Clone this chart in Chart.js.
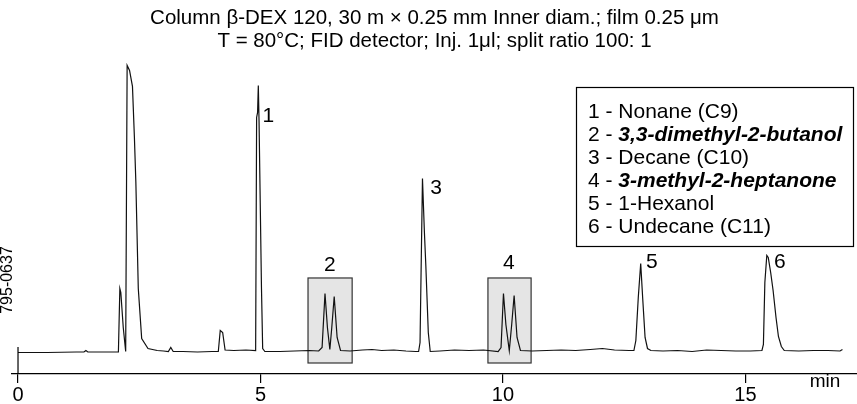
<!DOCTYPE html>
<html>
<head>
<meta charset="utf-8">
<script src="https://cdn.jsdelivr.net/npm/chart.js@4"></script>
<style>
  html, body { margin: 0; padding: 0; background: #fff; }
  #wrap { width: 857px; height: 404px; }
</style>
</head>
<body>
<div id="wrap"><canvas id="gcChart"></canvas></div>
<script>
const titleLines = [
  'Column \u03b2-DEX 120, 30 m \u00d7 0.25 mm Inner diam.; film 0.25 \u03bcm',
  'T = 80\u00b0C; FID detector; Inj. 1\u03bcl; split ratio 100: 1'
]

// retention time (min) and detector signal
const times = [
  0.00, 0.60, 1.20, 1.36, 1.40, 1.44, 1.80, 2.07,
  2.10, 2.12, 2.17, 2.22, 2.25, 2.30, 2.36, 2.40, 2.43, 2.48, 2.55, 2.68, 2.87, 3.00,
  3.10, 3.15, 3.20, 3.40, 3.70, 4.00, 4.13, 4.17, 4.22, 4.27, 4.45, 4.70, 4.90,
  4.92, 4.94, 4.955, 4.97, 5.02, 5.045, 5.09,
  5.40, 5.70, 6.00, 6.20, 6.27, 6.33, 6.38, 6.43, 6.47, 6.52, 6.58, 6.65,
  6.85, 7.10, 7.30, 7.50, 7.75, 8.00, 8.20, 8.26, 8.29, 8.34, 8.38, 8.41, 8.46, 8.50,
  8.70, 9.00, 9.30, 9.60, 9.90, 9.96, 10.01, 10.06, 10.13, 10.18, 10.23, 10.29, 10.36,
  10.60, 10.90, 11.20, 11.50, 11.80, 12.05, 12.30, 12.60, 12.70, 12.74, 12.79, 12.84, 12.88, 12.93, 12.98, 13.05,
  13.30, 13.60, 13.90, 14.20, 14.50, 14.80, 15.10, 15.34, 15.37, 15.40, 15.44, 15.47, 15.52, 15.57, 15.63, 15.68, 15.74, 15.80,
  16.10, 16.40, 16.70, 16.95, 17.00
]
const signal = [
  0, 0, 0.5, 0.5, 2, 0.5, 0.5, 0.5,
  64, 60, 25, 1, 287, 282, 266, 215, 170, 64, 14, 4, 2, 1.5,
  1, 5, 1, 1, 0.5, 1, 1, 22, 20, 2.5, 2, 2.5, 2,
  235, 240, 267, 232, 65, 4, 1,
  1, 1.5, 2, 1.5, 5, 59, 25, 3, 25, 56, 15, 2,
  1.5, 2.5, 3, 2, 2.5, 1.5, 1, 1, 10, 174, 120, 86, 20, 1,
  1.5, 2.5, 2, 2.5, 1, 5, 59, 28, 2, 28, 57, 15, 2,
  1.5, 2, 2.5, 2, 3, 4, 2.5, 2, 2, 12, 55, 89, 55, 15, 4, 2,
  1.5, 2, 1, 2.5, 2, 1.5, 1.5, 2, 8, 70, 97, 95, 80, 62, 35, 16, 6, 2,
  1.5, 2, 2, 1.5, 3
]

const xTicks = [0, 5, 10, 15]

const peakNames = ['1', '2', '3', '4', '5', '6']
const peakLabelTimes = [5.16, 6.43, 8.62, 10.12, 13.07, 15.71]
const peakLabelHeights = [236, 87.5, 164.5, 89.5, 90, 90]

// highlighted (boxed) enantiomer pairs, in minutes
const boxedRanges = [[5.98, 6.89], [9.69, 10.58]]
const boxTop = 74.5
const boxBottom = -10.5

const compounds = ['Nonane (C9)', '3,3-dimethyl-2-butanol', 'Decane (C10)', '3-methyl-2-heptanone', '1-Hexanol', 'Undecane (C11)']
const chiral = [false, true, false, true, false, false]

const FONT = '"Liberation Sans", Arial, Helvetica, sans-serif'

const decor = {
  id: 'decor',
  beforeDatasetsDraw(chart) {
    const { ctx, scales: { x, y } } = chart
    ctx.save()
    ctx.fillStyle = '#e5e5e5'
    ctx.strokeStyle = '#333'
    ctx.lineWidth = 1.2
    boxedRanges.forEach(r => {
      const x0 = x.getPixelForValue(r[0]), x1 = x.getPixelForValue(r[1])
      const y0 = y.getPixelForValue(boxTop), y1 = y.getPixelForValue(boxBottom)
      ctx.fillRect(x0, y0, x1 - x0, y1 - y0)
      ctx.strokeRect(x0, y0, x1 - x0, y1 - y0)
    })
    ctx.restore()
  },
  afterDraw(chart) {
    const { ctx, scales: { x, y }, chartArea } = chart
    ctx.save()
    ctx.fillStyle = '#000'
    ctx.strokeStyle = '#000'

    // peak numbers
    ctx.font = '21px ' + FONT
    ctx.textAlign = 'center'
    ctx.textBaseline = 'middle'
    peakNames.forEach((n, i) => {
      ctx.fillText(n, x.getPixelForValue(peakLabelTimes[i]), y.getPixelForValue(peakLabelHeights[i]))
    })

    // zero line marker
    ctx.lineWidth = 1.2
    const x0 = x.getPixelForValue(0)
    ctx.beginPath()
    ctx.moveTo(x0, y.getPixelForValue(5.5))
    ctx.lineTo(x0, chartArea.bottom)
    ctx.stroke()

    // axis unit
    ctx.font = '19px ' + FONT
    ctx.fillText('min', 825, 382)

    // legend box
    ctx.fillStyle = '#fff'
    ctx.fillRect(576.5, 87.5, 277, 159)
    ctx.strokeRect(576.5, 87.5, 277, 159)
    ctx.fillStyle = '#000'
    ctx.textAlign = 'left'
    compounds.forEach((c, i) => {
      const ly = 112 + i * 23
      const prefix = (i + 1) + ' - '
      ctx.font = '21px ' + FONT
      ctx.fillText(prefix, 588, ly)
      const w = ctx.measureText(prefix).width
      ctx.font = (chiral[i] ? 'italic bold ' : '') + '21px ' + FONT
      ctx.fillText(c, 588 + w, ly)
    })

    // figure code
    ctx.translate(8, 280)
    ctx.rotate(-Math.PI / 2)
    ctx.textAlign = 'center'
    ctx.font = '16px ' + FONT
    ctx.fillText('795-0637', 0, 0)
    ctx.restore()
  }
}

new Chart(document.getElementById('gcChart'), {
  type: 'line',
  data: {
    datasets: [{
      data: times.map((t, i) => ({ x: t, y: signal[i] })),
      borderColor: '#111',
      borderWidth: 1.2,
      pointRadius: 0,
      tension: 0,
      fill: false
    }]
  },
  options: {
    responsive: true,
    maintainAspectRatio: false,
    animation: false,
    layout: { padding: { left: 12, right: 0, top: 0, bottom: 0 } },
    plugins: {
      legend: { display: false },
      tooltip: { enabled: false },
      title: {
        display: true,
        text: titleLines,
        color: '#000',
        font: { family: FONT, size: 20.5, weight: 'normal', lineHeight: 1.12 },
        padding: { top: 7, bottom: 7 }
      }
    },
    scales: {
      x: {
        type: 'linear',
        min: -0.124,
        max: 17.3,
        afterBuildTicks: s => { s.ticks = xTicks.map(v => ({ value: v })) },
        afterFit: s => { s.height = 30 },
        ticks: { color: '#000', padding: 0, maxRotation: 0, font: { family: FONT, size: 20 } },
        grid: { drawOnChartArea: false, drawTicks: true, tickLength: 9, color: '#000', lineWidth: 1.2 },
        border: { display: true, color: '#000', width: 1.2 }
      },
      y: {
        display: false,
        min: -21.5,
        max: 292.5
      }
    }
  },
  plugins: [decor]
})
</script>
</body>
</html>
